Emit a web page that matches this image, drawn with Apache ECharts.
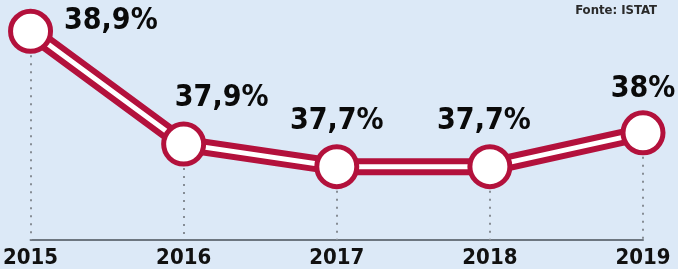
<!DOCTYPE html>
<html><head><meta charset="utf-8">
<script src="https://cdn.jsdelivr.net/npm/echarts@6/dist/echarts.min.js"></script>
<style>html,body{margin:0;padding:0;background:#dce9f7;}#c{width:678px;height:269px;}</style>
</head><body><div id="c"></div>
<script>
const years = ['2015','2016','2017','2018','2019'];
const values = [38.9, 37.9, 37.7, 37.7, 38.0];
const labels = ['38,9%','37,9%','37,7%','37,7%','38%'];
const source = 'Fonte: ISTAT';

const FONT = '"DejaVu Sans Condensed","Liberation Sans",sans-serif';
const labelPos = [
  {position:'right', offset:[6,-10]},
  {position:'top', offset:[38,-3]},
  {position:'top', offset:[0,-3]},
  {position:'top', offset:[-6,-3]},
  {position:'top', offset:[0,-1]}
];
const yMin = 37.05;
const chart = echarts.init(document.getElementById('c'));
chart.setOption({
  backgroundColor:'#dce9f7',
  animation:false,
  graphic:[{type:'text', right:21, top:4, style:{text:source, font:'bold 13px '+FONT, fill:'#2a2a2a'}}],
  grid:{left:30, right:35, top:20, bottom:29},
  xAxis:{type:'category', data:years, boundaryGap:false,
    axisLine:{lineStyle:{color:'#6d7680', width:2}}, axisTick:{show:false},
    axisLabel:{color:'#111', fontFamily:FONT, fontWeight:'bold', fontSize:22, margin:7}},
  yAxis:{type:'value', min:yMin, max:39.0, show:false, splitLine:{show:false}},
  series:[
    {type:'line', data:values, symbol:'none', lineStyle:{color:'#b3113c', width:17}, z:2,
      markLine:{silent:true, symbol:'none', z:1, label:{show:false},
        lineStyle:{color:'#868d95', width:2, type:[2,6]},
        data: values.map((v,i)=>[{coord:[i, v]},{coord:[i, yMin]}])}},
    {type:'line', data:values.map((v,i)=>({value:v, label:Object.assign({show:true, formatter:labels[i]}, labelPos[i])})),
      symbol:'circle', symbolSize:40,
      itemStyle:{color:'#ffffff', borderColor:'#b3113c', borderWidth:5},
      lineStyle:{color:'#ffffff', width:5}, z:3,
      label:{color:'#0a0a0a', fontFamily:FONT, fontWeight:'bold', fontSize:30}}
  ]
});
</script></body></html>
